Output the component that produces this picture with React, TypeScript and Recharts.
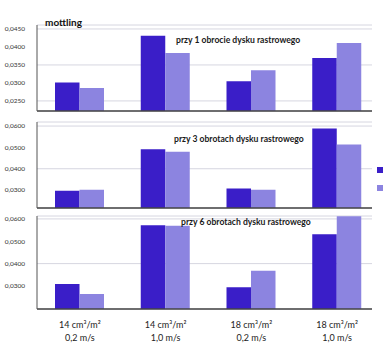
import {
  Bar,
  BarChart,
  CartesianGrid,
  XAxis,
  YAxis
} from "recharts";

const doses = ["14 cm³/m²", "14 cm³/m²", "18 cm³/m²", "18 cm³/m²"];
const speeds = ["0,2 m/s", "1,0 m/s", "0,2 m/s", "1,0 m/s"];

// mottling, dark series / light series, per number of anilox turns
const turns1Dark = [0.0301, 0.0431, 0.0305, 0.0369];
const turns1Light = [0.0286, 0.0383, 0.0335, 0.0411];
const turns3Dark = [0.0297, 0.0491, 0.0307, 0.0588];
const turns3Light = [0.0302, 0.048, 0.0301, 0.0514];
const turns6Dark = [0.0309, 0.0572, 0.0294, 0.0531];
const turns6Light = [0.0264, 0.0569, 0.0368, 0.0612];

const ticks1 = [0.025, 0.03, 0.035, 0.04, 0.045];
const ticks3 = [0.03, 0.04, 0.05, 0.06];
const ticks6 = [0.03, 0.04, 0.05, 0.06];

const DARK = "#3a1ec8";
const LIGHT = "#8c84e0";
const FONT = "Lato, 'Open Sans', sans-serif";

const build = (dark: number[], light: number[]) =>
  doses.map((d, i) => ({ name: `${d} ${speeds[i]}`, dark: dark[i], light: light[i] }));

const fmt = (v: number) => v.toFixed(4).replace(".", ",");

function XTick({ x, y, payload }: any) {
  const i = payload.index;
  return (
    <g fontFamily={FONT} fontSize={9} fill="#222">
      <text x={x} y={y + 19} textAnchor="middle">{doses[i]}</text>
      <text x={x} y={y + 32} textAnchor="middle">{speeds[i]}</text>
    </g>
  );
}

function Panel({
  dark,
  light,
  domain,
  ticks,
  top,
  bottom,
  last
}: {
  dark: number[];
  light: number[];
  domain: [number, number];
  ticks: number[];
  top: number;
  bottom: number;
  last?: boolean;
}) {
  const xh = last ? 40 : 30;
  return (
    <div style={{ position: "absolute", left: 0, top: 0 }}>
      <BarChart
        width={386}
        height={351}
        data={build(dark, light)}
        margin={{ top, right: 14, bottom: 351 - bottom - xh, left: 0 }}
        barGap={0}
        barSize={24.5}
      >
        <CartesianGrid vertical={false} stroke="#d6d6e0" />
        <XAxis
          dataKey="name"
          height={xh}
          padding={{ left: 0, right: -8 }}
          stroke="#444"
          strokeWidth={1.5}
          tickLine={false}
          tickSize={0}
          tickMargin={0}
          tick={last ? <XTick /> : false}
          interval={0}
        />
        <YAxis
          width={37}
          domain={domain}
          ticks={ticks}
          allowDataOverflow
          stroke="#555"
          tickLine={false}
          tickMargin={6}
          tickFormatter={fmt}
          tick={{ fontSize: 6.5, fill: "#333", fontFamily: FONT }}
        />
        <Bar dataKey="dark" fill={DARK} isAnimationActive={false} />
        <Bar dataKey="light" fill={LIGHT} isAnimationActive={false} />
      </BarChart>
    </div>
  );
}

const titleStyle = {
  position: "absolute" as const,
  fontFamily: FONT,
  fontWeight: 700,
  fontSize: 8.6,
  color: "#1a1a1a",
  whiteSpace: "nowrap" as const,
  lineHeight: "10px"
};

const swatch = (color: string, top: number) => ({
  position: "absolute" as const,
  left: 377,
  top,
  width: 6,
  height: 6,
  background: color
});

export default function App() {
  return (
    <div style={{ position: "absolute", left: 0, top: 0, width: 386, height: 351, background: "#fff" }}>
      <Panel dark={turns1Dark} light={turns1Light} domain={[0.0222, 0.0461]} ticks={ticks1} top={25} bottom={111} />
      <Panel dark={turns3Dark} light={turns3Light} domain={[0.0216, 0.0619]} ticks={ticks3} top={122} bottom={208} />
      <Panel dark={turns6Dark} light={turns6Light} domain={[0.0197, 0.0613]} ticks={ticks6} top={216} bottom={309} last />
      <div style={swatch(DARK, 167)} />
      <div style={swatch(LIGHT, 185)} />
      <div style={{ ...titleStyle, left: 45, top: 17, fontSize: 10, color: "#111" }}>mottling</div>
      <div style={{ ...titleStyle, left: 176, top: 35 }}>przy 1 obrocie dysku rastrowego</div>
      <div style={{ ...titleStyle, left: 174, top: 134 }}>przy 3 obrotach dysku rastrowego</div>
      <div style={{ ...titleStyle, left: 181, top: 217 }}>przy 6 obrotach dysku rastrowego</div>
    </div>
  );
}
